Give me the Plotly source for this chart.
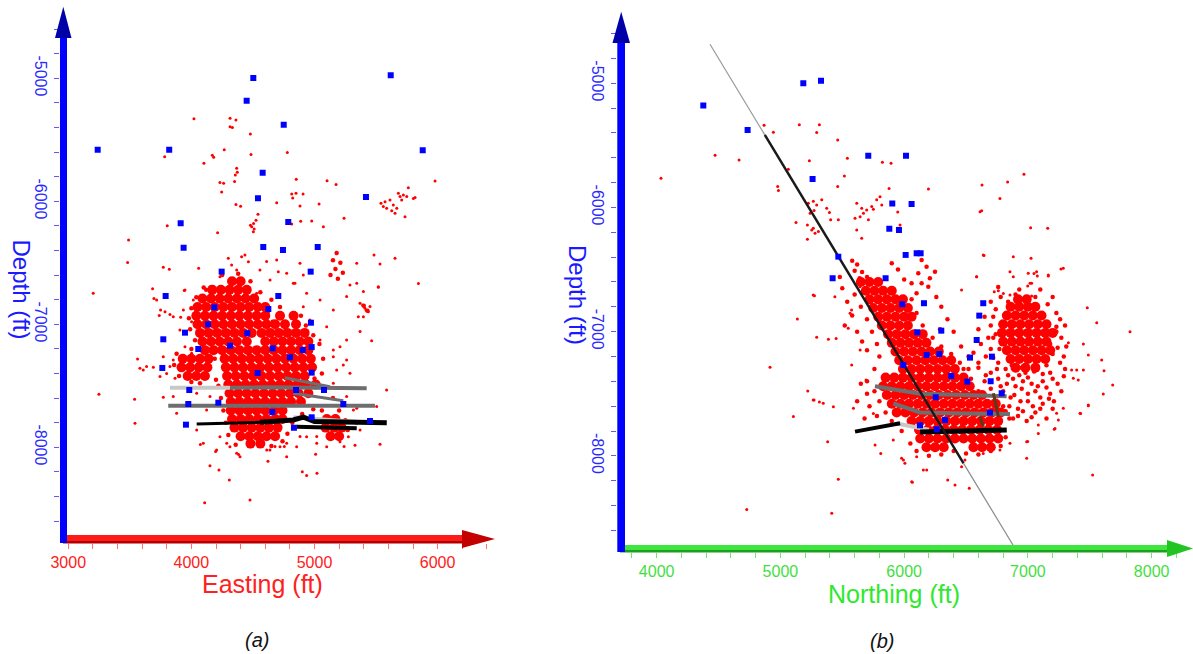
import plotly.graph_objects as go

W, H = 1193, 654

# ---------------- data : panel (a)  Easting / Depth ----------------
blue_a_e = [4503, 5619, 4449, 4750, 3239, 3820, 5879, 4579, 4541, 5418, 3913, 4787, 3937, 4584, 4744, 5026,
            4246, 4969, 3791, 4706, 4186, 4625, 4971, 4135, 3948, 4454, 3772, 4056, 4314, 4660, 4904, 4977,
            4801, 3764, 4538, 4977, 3983, 4850, 5077, 3975, 4219, 5234, 4657, 4977, 3956, 4833, 5451]
blue_a_d = [-4998, -4976, -5182, -5377, -5580, -5580, -5585, -5767, -5976, -5965, -6179, -6168, -6377, -6371,
            -6396, -6371, -6572, -6572, -6770, -6770, -6862, -6876, -6987, -7000, -7068, -7073, -7122, -7201,
            -7174, -7195, -7209, -7185, -7268, -7355, -7396, -7393, -7534, -7534, -7534, -7648, -7637, -7648,
            -7713, -7756, -7816, -7841, -7786]

sparse_a = [(4021, -5328), (4314, -5325), (4362, -5339), (4314, -5393), (4333, -5401), (4479, -5452),
            (4484, -5620), (4779, -5604), (4267, -5580), (4170, -5626), (4181, -5642), (4102, -5691),
            (3783, -5637), (4368, -5732), (4373, -5764), (4357, -5786), (4351, -5840), (4232, -5848),
            (4262, -5854), (4246, -5924), (4852, -5821), (5102, -5832), (5175, -5864), (4815, -5940),
            (4850, -5935), (4907, -5940), (4823, -5973), (4693, -6011), (4362, -6027), (4400, -6040),
            (4882, -6038), (5037, -6022), (4541, -6106), (4525, -6155), (4505, -6180), (4490, -6207),
            (4510, -6225), (4480, -6195), (4888, -6162), (4977, -6160), (5072, -6206), (4815, -6184),
            (5240, -6138), (4213, -6255), (3804, -6198), (3490, -6314), (3482, -6498), (3203, -6748),
            (5540, -6016), (5559, -6043), (5586, -6057), (5627, -6076), (5654, -6097), (5681, -5935),
            (5722, -5948), (5762, -5889), (5803, -5978), (5708, -5989), (5735, -6125), (5613, -5989),
            (5573, -6003), (5640, -6030), (5695, -5962), (5668, -6057), (5749, -5962), (5817, -5970),
            (5979, -5835), (5483, -6436), (5532, -6509), (5654, -6463), (5519, -6699), (5844, -6669),
            (5370, -6829), (5410, -6870), (5437, -6897), (5391, -6843), (5451, -6856), (5420, -6885),
            (3772, -6536), (3821, -6553), (3685, -6710), (3718, -6802), (3948, -6721), (3739, -6929),
            (3826, -6921), (3249, -7569), (3539, -7610), (3542, -7805), (3563, -7282), (3772, -7593),
            (4073, -7978), (4197, -8035), (4151, -8149), (4224, -8184), (4308, -8265), (4108, -8450),
            (4476, -8428), (4384, -8059), (4622, -8114), (4679, -7994), (4755, -7994), (4901, -8198),
            (4936, -8230), (5020, -8211), (5009, -8057), (5240, -7994), (5329, -7983), (5532, -7975),
            (5464, -7133), (5370, -7059), (4503, -6247), (3696, -6791), (3750, -6883), (3913, -6943),
            (3942, -6726), (4059, -6545), (4435, -6436), (4611, -6490), (4706, -6572), (4841, -6667),
            (4909, -6599), (5288, -6680), (5397, -6734), (5518, -6694), (5397, -6938), (5261, -7127),
            (5288, -7398), (5234, -7331), (5153, -7480), (5153, -7263), (5207, -7182), (3582, -7358),
            (3636, -7344), (3609, -7371), (3691, -7350), (3745, -7425), (3826, -7344), (3772, -7263),
            (3853, -7588), (3880, -7724), (4043, -7859), (4097, -7967), (4205, -8022), (4313, -7995),
            (4395, -8076), (4638, -8022), (4774, -7967), (4882, -7913), (5018, -7913), (5126, -7913),
            (5261, -7859), (5370, -7859), (5343, -7683), (5505, -7669), (5586, -7534), (4300, -6464),
            (4327, -6518), (4408, -6450), (4463, -6491), (4368, -6559), (4232, -6613), (4151, -6694),
            (4016, -6803), (3935, -6884), (4002, -6979), (3907, -7046), (3853, -6938), (3786, -6897),
            (4070, -7101), (3948, -7182), (4002, -7236), (3853, -7290), (3799, -7399), (3867, -7439),
            (4043, -7561), (4151, -7588), (4124, -7697), (4205, -7805), (4232, -7914), (4287, -7968),
            (4368, -8049), (4476, -7995), (4612, -8022), (4720, -7995), (4774, -8076), (4855, -7995),
            (4936, -7914), (5018, -7968), (5099, -7995), (5207, -7954), (5275, -7914), (5343, -7805),
            (5316, -7697), (5261, -7588), (5180, -7372), (5261, -7290), (5153, -7209), (5045, -7128),
            (5099, -7019), (4963, -6965), (4909, -6857), (5045, -6803), (5153, -6884), (5261, -6775),
            (5343, -6667), (4936, -6748), (4828, -6667), (4774, -6586), (4693, -6477), (4639, -6640),
            (4557, -6559), (4530, -6748), (4882, -6504), (5343, -6504), (5356, -6938)]

medium_a = [(4250, -6600), (4380, -6590), (4480, -6650), (4100, -6700), (4560, -6740), (4650, -6800),
            (4720, -6860), (4890, -6930), (4930, -7010), (4990, -7090), (5040, -7160), (5070, -7280),
            (5060, -7400), (5000, -7440), (5080, -7540), (5150, -7600), (5200, -7700), (5250, -7780),
            (5270, -7860), (5060, -7700), (4990, -7690), (4900, -7730), (4820, -7800), (4780, -7890),
            (4740, -7950), (4650, -7990), (4360, -7980), (4300, -7900), (4280, -7800), (4260, -7700),
            (4240, -7600), (4220, -7500), (4200, -7450), (3880, -7240), (3860, -7330), (3900, -7420),
            (4000, -7470), (4070, -7480), (4190, -7280), (4000, -7200), (4030, -7130), (3990, -7040),
            (3980, -6950), (4000, -6870), (4040, -6780), (4120, -6720), (4620, -6900), (4660, -6980),
            (5180, -6420), (5150, -6480), (5210, -6500), (5170, -6550), (5230, -6580), (5190, -6630),
            (5130, -6600), (5400, -6850), (5430, -6890)]

dense_a_rows = [
    (-6650, [4330, 4400]),
    (-6720, [4170, 4240, 4310, 4380, 4450]),
    (-6790, [4090, 4160, 4230, 4300, 4370, 4440, 4510]),
    (-6860, [4050, 4120, 4190, 4260, 4330, 4400, 4470, 4540, 4600]),
    (-6930, [4040, 4110, 4180, 4250, 4320, 4390, 4460, 4530, 4600, 4720, 4830]),
    (-7000, [4050, 4120, 4190, 4260, 4330, 4400, 4470, 4540, 4610, 4680, 4760, 4850]),
    (-7070, [4070, 4140, 4210, 4280, 4350, 4420, 4490, 4570, 4640, 4710, 4780, 4850, 4920]),
    (-7140, [4090, 4160, 4230, 4300, 4370, 4450, 4600, 4670, 4740, 4810, 4880, 4950]),
    (-7210, [4110, 4180, 4250, 4320, 4390, 4460, 4530, 4600, 4670, 4740, 4810, 4880, 4950]),
    (-7280, [3930, 4000, 4070, 4140, 4270, 4340, 4410, 4480, 4550, 4620, 4690, 4760, 4830, 4900, 4970]),
    (-7350, [3920, 3990, 4060, 4130, 4280, 4350, 4420, 4490, 4560, 4630, 4700, 4770, 4840, 4910, 4980]),
    (-7420, [3970, 4040, 4110, 4290, 4360, 4430, 4500, 4570, 4640, 4710, 4780, 4850, 4920]),
    (-7490, [4300, 4370, 4440, 4510, 4580, 4650, 4720, 4790, 4860, 4930, 5010]),
    (-7560, [4310, 4380, 4450, 4520, 4590, 4660, 4730, 4800, 4870, 4950]),
    (-7630, [4320, 4390, 4460, 4530, 4600, 4670, 4740, 4810, 4890]),
    (-7700, [4320, 4390, 4460, 4530, 4600, 4670, 4740]),
    (-7770, [4330, 4400, 4470, 4540, 4610, 4680, 4740, 5100, 5170]),
    (-7840, [4350, 4420, 4490, 4560, 4630, 4700, 5090, 5160, 5220]),
    (-7910, [4400, 4470, 4540, 4610, 4680, 5130, 5200]),
    (-7970, [4480, 4560]),
]

# well trajectories in panel (a): (colour, width, eastings, depths)
wells_a = [
    ("#c8c8c8", 4, [3826, 4314], [-7516, -7516]),
    ("#6e6e6e", 4, [4314, 4600, 5000, 5424], [-7516, -7512, -7516, -7520]),
    ("#6e6e6e", 3, [4759, 4950, 5125], [-7434, -7470, -7507]),
    ("#6e6e6e", 3, [4827, 5030, 5234], [-7561, -7590, -7621]),
    ("#6e6e6e", 4, [3812, 4300, 4800, 5491], [-7662, -7660, -7658, -7662]),
    ("#c8c8c8", 3, [4828, 5100, 5370], [-7751, -7770, -7792]),
    ("#000000", 3, [4043, 4300, 4557], [-7810, -7805, -7797]),
    ("#000000", 5, [4557, 4828, 4910, 5000, 5587], [-7797, -7778, -7755, -7790, -7800]),
    ("#000000", 4, [4855, 5100, 5343], [-7832, -7840, -7846]),
]

# ---------------- data : panel (b)  Northing / Depth ----------------
blue_b_n = [4377, 4735, 5185, 5328, 5710, 6015, 5260, 5904, 6060, 5880, 5958, 6012, 6101, 6133, 5468, 5422,
            5850, 5985, 6160, 6639, 6607, 6106, 6300, 6586, 6182, 6284, 5993, 6532, 6709, 6381, 6510, 6699,
            6788, 6255, 6693, 6330, 6128, 6263]
blue_b_d = [-5180, -5376, -5000, -4979, -5583, -5583, -5771, -5969, -5972, -6171, -6181, -6382, -6369, -6369,
            -6396, -6570, -6570, -6779, -6771, -6771, -6871, -7005, -6992, -7067, -7188, -7180, -7268, -7209,
            -7201, -7357, -7402, -7399, -7496, -7528, -7652, -7711, -7754, -7786]

sparse_b = [(4035, -5765), (4472, -5580), (4666, -5617), (4868, -5338), (4943, -5395), (5153, -5335),
            (5315, -5335), (5293, -5397), (5463, -5456), (5234, -5625), (5541, -5604), (5824, -5636),
            (5894, -5644), (5517, -5746), (5064, -5692), (4978, -5832), (4984, -5864), (5463, -5832),
            (5878, -5848), (6196, -5851), (5126, -6122), (5226, -5966), (5266, -5950), (5293, -5980),
            (5334, -5939), (5240, -6047), (5272, -6025), (5374, -6007), (5396, -6041), (5406, -6100),
            (5218, -6141), (5253, -6181), (5280, -6208), (5307, -6194), (5266, -6168), (5218, -6256),
            (5617, -5966), (5657, -6007), (5697, -6020), (5738, -5993), (5778, -5939), (5805, -5913),
            (5819, -5980), (5644, -6074), (5603, -6087), (5711, -6100), (5671, -6047), (5751, -6015),
            (5948, -6036), (5967, -6141), (5617, -6181), (5657, -6248), (5468, -6100), (5137, -6898),
            (4916, -7287), (4728, -8431), (5415, -8463), (5468, -8189), (5382, -7886), (5105, -7684),
            (5221, -7478), (5272, -7550), (5315, -7566), (5428, -7604), (5293, -7046), (5388, -7062),
            (5450, -7056), (5275, -6710), (5563, -6852), (5590, -7617), (5576, -7268), (5644, -7148),
            (5811, -7980), (5751, -7658), (5994, -8033), (6061, -8208), (6182, -8114), (6352, -8194),
            (5692, -7389), (5765, -7912), (7523, -8154), (6990, -8020), (6998, -7885), (7084, -7751),
            (7232, -7657), (7421, -7657), (7488, -7590), (7286, -7617), (7213, -7786), (6855, -7899),
            (6774, -7953), (6526, -8261), (6411, -8234), (6066, -8213), (6155, -8114), (6006, -8060),
            (5979, -8020), (5265, -7550), (5346, -7577), (5548, -6973), (5575, -6826), (5440, -6718),
            (5643, -6638), (5265, -6705), (5912, -7872), (6101, -8007), (6464, -8087), (6491, -8033),
            (6639, -7980), (6882, -6396), (7003, -6530), (7070, -6517), (7165, -6544), (7286, -6490),
            (7030, -6611), (6464, -6665), (6639, -6383), (6585, -6557), (6968, -5733), (6629, -5819),
            (6836, -5795), (6774, -5927), (6613, -6034), (6626, -6026), (7022, -6163), (7160, -6168),
            (6645, -6386), (7025, -6410), (7267, -6496), (6586, -6557), (6855, -6517), (6882, -6557),
            (7049, -6531), (7076, -6552), (7165, -6552), (7017, -6611), (6998, -6633), (7030, -6713),
            (6728, -6678), (6761, -6670), (6855, -6705), (6801, -6692), (7480, -6807), (7556, -6928),
            (7825, -7000), (7448, -7100), (7327, -7089), (7488, -7188), (7596, -7228), (7615, -7314),
            (7685, -7430), (7609, -7502), (7488, -7596), (7426, -7658), (7367, -7376), (7407, -7389),
            (7394, -7309), (7353, -7309), (7448, -7309), (7246, -7711), (7219, -7779), (7084, -7819),
            (6990, -7886)]

medium_b = [(6700, -6760), (6780, -6720), (7060, -6720), (7160, -6780), (7230, -6850), (6720, -6880),
            (7230, -6960), (7270, -7050), (6720, -7050), (6700, -7140), (7200, -7180), (7260, -7250),
            (6760, -7250), (6820, -7300), (6950, -7290), (7080, -7280), (7180, -7330), (6700, -7330),
            (6880, -7380), (7000, -7370), (7120, -7400), (7240, -7420), (6780, -7440), (6950, -7460),
            (7060, -7480), (7180, -7500), (6860, -7530), (7000, -7560), (7120, -7580), (6920, -7620),
            (7060, -7650), (7200, -7620), (6800, -7600), (7150, -7700), (6990, -7720), (6650, -7400),
            (6600, -7250), (6620, -7100), (6560, -7170), (6600, -6980), (6460, -7120), (6520, -7200),
            (6600, -7290), (6480, -7300), (6660, -7350), (6540, -7380), (6700, -7460), (6600, -7480),
            (6750, -7520), (6141, -6423), (6181, -6477), (6114, -6530), (6208, -6571), (6249, -6517),
            (6141, -6611), (6195, -6638), (6060, -6610), (6100, -6690), (5580, -6430), (5620, -6460),
            (5600, -6510), (5660, -6520), (5640, -6570), (5700, -6560), (5600, -6700), (5650, -6800),
            (5700, -6900), (5740, -7000), (5780, -7100), (5800, -7200), (5760, -7300), (5700, -7400),
            (5760, -7480), (5800, -7560), (5850, -7650), (5900, -7720), (5980, -7800), (6050, -7900),
            (6100, -7960), (6200, -8000), (6300, -7990), (6400, -7960), (6500, -7980), (6600, -7990),
            (6700, -7960), (6780, -7920), (6820, -7850), (6850, -7700), (6820, -7640), (6060, -6740),
            (6100, -6850), (6150, -6950), (6230, -7050), (6300, -7120), (6380, -7180), (6450, -7250),
            (6520, -7300), (5650, -7420), (5700, -7500), (5720, -7600), (5780, -7680), (5620, -7560),
            (5680, -7700), (5500, -6650), (5540, -6760), (5580, -6870), (5520, -6950), (5620, -7000),
            (5660, -7080), (5700, -7150), (5480, -6560), (5950, -6500), (6000, -6580), (5900, -6450),
            (6260, -6720), (6300, -6800), (6350, -6900), (6400, -7000), (6290, -6980),
            (6720, -7560), (6780, -7660), (6880, -7700), (6940, -7560), (7030, -7420), (7100, -7530),
            (7210, -7560), (7270, -7480), (7290, -7360), (7150, -7270), (6980, -7330), (6900, -7440),
            (6840, -7350), (6760, -7380), (6720, -7210), (6770, -7140), (7180, -7100), (7240, -7130),
            (7230, -7000), (7260, -6900), (7200, -6720), (6900, -6700), (6980, -6740), (6840, -6760),
            (6740, -6820), (6700, -6950), (6740, -7020), (7290, -7200), (7010, -7200), (7130, -7210),
            (6870, -7270), (6930, -7350), (7050, -7320), (7120, -7340), (6800, -7480), (6890, -7510),
            (7000, -7500), (7150, -7450), (6960, -7640), (7100, -7620), (6830, -7420), (6960, -7400),
            (7080, -7440), (7200, -7380), (6750, -7300), (7040, -7600), (6850, -7600), (7170, -7540),
            (6920, -7680), (7030, -7690), (6720, -7650), (7300, -7300), (7310, -7120), (6660, -7200),
            (6680, -7050), (6930, -6660), (7100, -6660), (7300, -6950), (6650, -6880), (6760, -6640)]

dense_b_rows = [
    (-6600, [5650, 5720, 5790]),
    (-6670, [5690, 5760, 5830, 5900]),
    (-6740, [5720, 5790, 5860, 5930, 5990]),
    (-6810, [5750, 5820, 5890, 5960, 6030]),
    (-6880, [5790, 5860, 5930, 6000, 6060]),
    (-6950, [5820, 5890, 5960, 6030]),
    (-7020, [5870, 5940, 6010, 6080, 6150]),
    (-7090, [5900, 5970, 6040, 6110, 6180]),
    (-7160, [5930, 6000, 6070, 6140, 6210, 6280]),
    (-7230, [5960, 6030, 6100, 6170, 6240, 6310, 6380]),
    (-7300, [5990, 6060, 6130, 6200, 6270, 6340, 6410]),
    (-7370, [5850, 5920, 5990, 6060, 6130, 6200, 6270, 6340, 6410, 6480]),
    (-7440, [5830, 5900, 5970, 6040, 6110, 6180, 6250, 6320, 6390, 6460, 6530]),
    (-7510, [5860, 5930, 6000, 6070, 6140, 6210, 6280, 6350, 6420, 6490, 6560, 6630]),
    (-7580, [5900, 5970, 6040, 6110, 6180, 6250, 6320, 6390, 6460, 6530, 6600, 6670, 6740]),
    (-7650, [5940, 6010, 6080, 6150, 6220, 6290, 6360, 6430, 6500, 6570, 6640, 6710, 6780]),
    (-7720, [6060, 6130, 6200, 6270, 6340, 6410, 6480, 6550, 6620, 6690, 6760]),
    (-7790, [6120, 6190, 6260, 6330, 6400, 6470, 6540, 6610, 6680, 6750]),
    (-7860, [6130, 6200, 6270, 6340, 6410, 6480, 6550, 6620, 6690, 6760]),
    (-7930, [6180, 6250, 6320, 6560, 6630, 6700]),
    (-6740, [6920, 6990]),
    (-6800, [6860, 6930, 7000, 7060]),
    (-6870, [6830, 6900, 6970, 7040, 7110]),
    (-6940, [6800, 6870, 6940, 7010, 7080, 7150]),
    (-7010, [6790, 6860, 6930, 7000, 7070, 7140, 7200]),
    (-7080, [6800, 6870, 6940, 7010, 7080, 7150]),
    (-7150, [6830, 6900, 6970, 7040, 7110, 7180]),
    (-7220, [6860, 6930, 7000, 7070, 7140]),
    (-7290, [6900, 6980, 7060]),
]

wells_b = [
    ("#6e6e6e", 4, [5764, 6130, 6500, 6828], [-7440, -7500, -7510, -7520]),
    ("#6e6e6e", 4, [5912, 6000, 6127, 6500, 6855], [-7577, -7610, -7650, -7658, -7663]),
    ("#c8c8c8", 4, [5940, 6050, 6200], [-7740, -7760, -7790]),
    ("#5a3a1a", 3, [6721, 6740, 6761], [-7496, -7600, -7684]),
    ("#5a3a1a", 3, [6613, 6640], [-7684, -7765]),
    ("#000000", 4, [5603, 5780, 5967], [-7805, -7775, -7738]),
    ("#000000", 5, [6128, 6400, 6829], [-7808, -7800, -7791]),
]

# inclined well in panel (b): (colour, width, northings, depths)
incline_b = [
    ("#9a9a9a", 1.2, [4431, 4874], [-4686, -5416]),
    ("#1a1a1a", 2.5, [4874, 6480], [-5416, -8060]),
    ("#8a8a8a", 1.2, [6480, 6895], [-8060, -8744]),
]

ticks_a_x = [3000, 4000, 5000, 6000]
ticks_b_x = [4000, 5000, 6000, 7000, 8000]
ticks_depth = [-5000, -6000, -7000, -8000]

# ---------------- figure ----------------
fig = go.Figure()


def unpack(pairs):
    return [p[0] for p in pairs], [p[1] for p in pairs]


def rows_to_xy(rows):
    xs, ys = [], []
    for d, es in rows:
        for e in es:
            xs.append(e)
            ys.append(d)
    return xs, ys


RED = "#ff0000"


def add_panel(xa, ya, sparse, medium, dense_rows, wells, blue_x, blue_y, extra_lines=()):
    dx, dy = rows_to_xy(dense_rows)
    fig.add_trace(go.Scatter(x=dx, y=dy, mode="markers", xaxis=xa, yaxis=ya,
                             marker=dict(color=RED, size=10, line=dict(width=0)), hoverinfo="skip"))
    mx, my = unpack(medium)
    fig.add_trace(go.Scatter(x=mx, y=my, mode="markers", xaxis=xa, yaxis=ya,
                             marker=dict(color=RED, size=4.5, line=dict(width=0)), hoverinfo="skip"))
    sx, sy = unpack(sparse)
    fig.add_trace(go.Scatter(x=sx, y=sy, mode="markers", xaxis=xa, yaxis=ya,
                             marker=dict(color=RED, size=3, line=dict(width=0)), hoverinfo="skip"))
    for col, wd, xs, ys in wells:
        fig.add_trace(go.Scatter(x=xs, y=ys, mode="lines", xaxis=xa, yaxis=ya,
                                 line=dict(color=col, width=wd), hoverinfo="skip"))
    for col, wd, xs, ys in extra_lines:
        fig.add_trace(go.Scatter(x=xs, y=ys, mode="lines", xaxis=xa, yaxis=ya,
                                 line=dict(color=col, width=wd), hoverinfo="skip"))
    fig.add_trace(go.Scatter(x=blue_x, y=blue_y, mode="markers", xaxis=xa, yaxis=ya,
                             marker=dict(color="#0000ff", size=6, symbol="square", line=dict(width=0)),
                             hoverinfo="skip"))


add_panel("x", "y", sparse_a, medium_a, dense_a_rows, wells_a, blue_a_e, blue_a_d)
add_panel("x2", "y2", sparse_b, medium_b, dense_b_rows, wells_b, blue_b_n, blue_b_d, incline_b)

FONT = "Liberation Sans, Arial, sans-serif"


def xpaper(px):
    return px / W


def ypaper(py):
    return 1 - py / H


def xaxis_style(domain, rng, vals, col, tickcol):
    return dict(domain=domain, range=rng, showgrid=False, zeroline=False, showline=False,
                automargin=False,
                tickmode="array", tickvals=vals, ticktext=[str(v) for v in vals],
                ticks="outside", ticklen=5, tickwidth=1, tickcolor=tickcol,
                tickfont=dict(family=FONT, size=16, color=col),
                minor=dict(tickmode="linear", tick0=0, dtick=200, ticks="outside", ticklen=5,
                           tickwidth=1, tickcolor=tickcol, showgrid=False),
                fixedrange=True)


def yaxis_style(domain, rng):
    return dict(domain=domain, range=rng, showgrid=False, zeroline=False, showline=False,
                automargin=False,
                tickmode="array", tickvals=ticks_depth, ticktext=[str(v) for v in ticks_depth],
                tickangle=90, ticks="outside", ticklen=5, tickwidth=1, tickcolor="#5a5aff",
                tickfont=dict(family=FONT, size=16, color="#2a2aff"),
                minor=dict(tickmode="linear", tick0=0, dtick=200, ticks="outside", ticklen=5,
                           tickwidth=1, tickcolor="#5a5aff", showgrid=False),
                fixedrange=True)


fig.update_layout(
    width=W, height=H, margin=dict(l=0, r=0, t=0, b=0, pad=0, autoexpand=False),
    paper_bgcolor="white", plot_bgcolor="white", showlegend=False,
    xaxis=dict(**xaxis_style([xpaper(60), xpaper(495)], [2933, 6466], ticks_a_x, "#ff2020", "#ff7070"),
               anchor="y"),
    yaxis=dict(**yaxis_style([ypaper(543), ypaper(6.7)], [-8778, -4418]), anchor="x"),
    xaxis2=dict(**xaxis_style([xpaper(617.3), 1.0], [3682, 8334], ticks_b_x, "#3fe03f", "#6ce86c"),
                anchor="y2"),
    yaxis2=dict(**yaxis_style([ypaper(552), ypaper(11.7)], [-8774, -4424]), anchor="x2"),
)


def rect(x0, y0, x1, y1, col):
    return dict(type="rect", xref="paper", yref="paper", x0=xpaper(x0), x1=xpaper(x1),
                y0=ypaper(y1), y1=ypaper(y0), fillcolor=col, line=dict(width=0), layer="above")


def tri(pts, col):
    path = "M " + " L ".join(f"{xpaper(a):.5f},{ypaper(b):.5f}" for a, b in pts) + " Z"
    return dict(type="path", xref="paper", yref="paper", path=path, fillcolor=col,
                line=dict(width=0), layer="above")


shapes = [
    # panel (a) axes
    rect(63, 535, 462, 543, "#ff1a1a"),
    rect(63, 541, 462, 543.5, "#b00000"),
    tri([(462, 530), (462, 548), (495, 539)], "#c40000"),
    rect(60, 37, 67, 543, "#0000ff"),
    tri([(55, 38), (71.5, 38), (63.3, 6.7)], "#0000a8"),
    # panel (b) axes
    rect(620, 545, 1167, 552, "#3ce63c"),
    rect(620, 550, 1167, 552.5, "#1f9f1f"),
    tri([(1167, 540), (1167, 557), (1193, 548.5)], "#22c422"),
    rect(617.3, 42, 625, 552, "#0000ff"),
    tri([(612.5, 43), (630, 43), (621.2, 11.7)], "#0000a8"),
]

annotations = [
    dict(text="Depth (ft)", x=xpaper(21.5), y=ypaper(289), textangle=90,
         font=dict(family=FONT, size=24, color="#1a1aff")),
    dict(text="Depth (ft)", x=xpaper(577), y=ypaper(295), textangle=90,
         font=dict(family=FONT, size=24, color="#1a1aff")),
    dict(text="Easting (ft)", x=xpaper(262.5), y=ypaper(584),
         font=dict(family=FONT, size=25, color="#ff2020")),
    dict(text="Northing (ft)", x=xpaper(894), y=ypaper(594),
         font=dict(family=FONT, size=25, color="#2ee82e")),
    dict(text="<i>(a)</i>", x=xpaper(257), y=ypaper(640),
         font=dict(family=FONT, size=20, color="#111111")),
    dict(text="<i>(b)</i>", x=xpaper(882), y=ypaper(641),
         font=dict(family=FONT, size=20, color="#111111")),
]
for a in annotations:
    a.update(xref="paper", yref="paper", showarrow=False, xanchor="center", yanchor="middle")

fig.update_layout(shapes=shapes, annotations=annotations)

fig.write_html("out.html")
